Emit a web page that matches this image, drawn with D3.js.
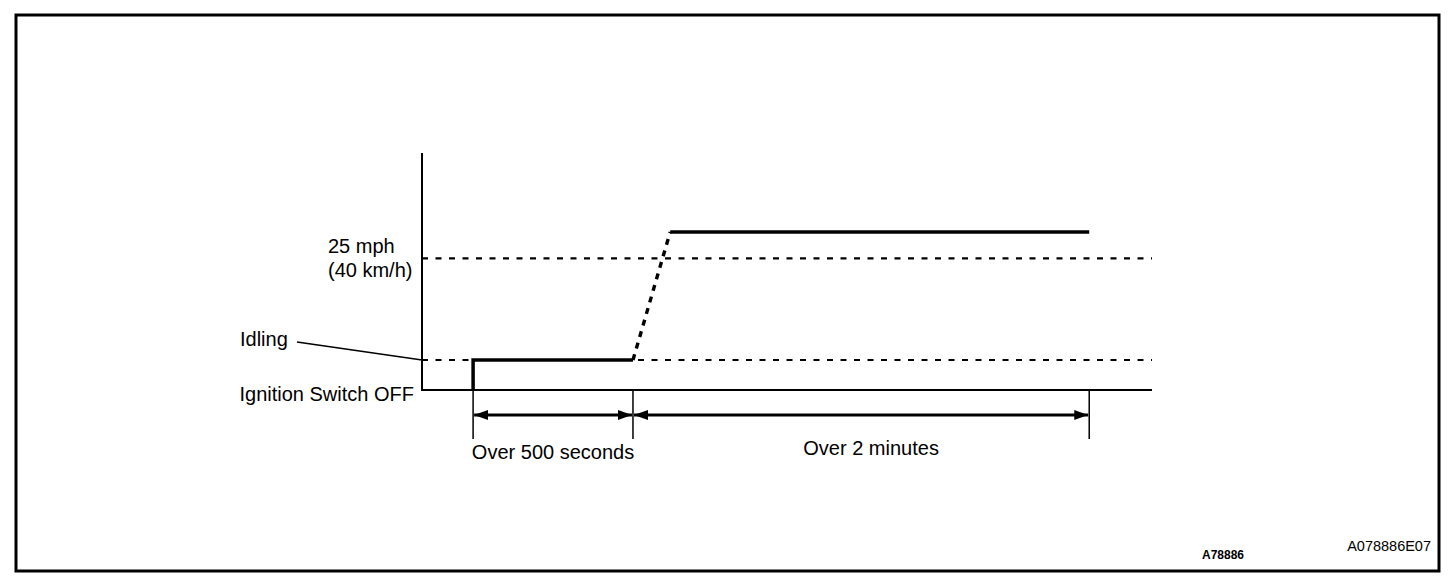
<!DOCTYPE html>
<html>
<head>
<meta charset="utf-8">
<script src="https://cdn.jsdelivr.net/npm/d3@7"></script>
<style>
  html, body { margin: 0; padding: 0; background: #fff; }
  svg { display: block; font-family: "Liberation Sans", Arial, sans-serif; }
</style>
</head>
<body>
<div id="chart"></div>
<script>
// reference levels (vehicle speed, mph) and their labels
const levelSpeeds = [0, 5.7, 25]
const levelLabels = [['Ignition Switch OFF'], ['Idling'], ['25 mph', '(40 km/h)']]

// speed profile over time (arbitrary time units, not to scale)
const profileTime = [7, 7, 28.9, 34, 91.4]
const profileSpeed = [0, 5.7, 5.7, 30, 30]

// phase boundaries and labels under the axis
const phaseBounds = [7, 28.9, 91.4]
const phaseLabels = ['Over 500 seconds', 'Over 2 minutes']

const figureCodes = ['A78886', 'A078886E07']

const fullWidth = 1456, fullHeight = 584

const svg = d3.select('#chart')
  .append('svg')
    .attr('width', fullWidth)
    .attr('height', fullHeight)

// frame
svg.append('rect')
  .attr('x', 16).attr('y', 15)
  .attr('width', 1423).attr('height', 556)
  .attr('fill', '#fff')
  .attr('stroke', '#000')
  .attr('stroke-width', 3)

const xScale = d3.scaleLinear()
  .domain([0, 100])
  .range([422, 1152])

const yScale = d3.scaleLinear()
  .domain([0, 45])
  .range([390, 153])

const g = svg.append('g')

// arrowhead markers
const defs = svg.append('defs')
defs.append('marker')
  .attr('id', 'head-end')
  .attr('viewBox', '0 0 14 10')
  .attr('refX', 14).attr('refY', 5)
  .attr('markerWidth', 14).attr('markerHeight', 10)
  .attr('markerUnits', 'userSpaceOnUse')
  .attr('orient', 'auto')
  .append('path')
    .attr('d', 'M0,0 L14,5 L0,10 Z')
    .attr('fill', '#000')
defs.append('marker')
  .attr('id', 'head-start')
  .attr('viewBox', '0 0 14 10')
  .attr('refX', 0).attr('refY', 5)
  .attr('markerWidth', 14).attr('markerHeight', 10)
  .attr('markerUnits', 'userSpaceOnUse')
  .attr('orient', 'auto')
  .append('path')
    .attr('d', 'M14,0 L0,5 L14,10 Z')
    .attr('fill', '#000')

// dashed reference lines (idling, 25 mph)
g.selectAll('.ref')
  .data(levelSpeeds.slice(1))
  .enter()
  .append('line')
    .attr('class', 'ref')
    .attr('x1', xScale(0))
    .attr('x2', xScale(100))
    .attr('y1', d => yScale(d))
    .attr('y2', d => yScale(d))
    .style('stroke', '#000')
    .style('stroke-width', 2.2)
    .style('stroke-dasharray', '6,7.5')

// axes: vertical speed axis + time baseline (ignition off)
g.append('line')
  .attr('x1', xScale(0)).attr('x2', xScale(0))
  .attr('y1', yScale(0) + 1).attr('y2', yScale(45))
  .style('stroke', '#000').style('stroke-width', 2)
g.append('line')
  .attr('x1', xScale(0)).attr('x2', xScale(100))
  .attr('y1', yScale(0)).attr('y2', yScale(0))
  .style('stroke', '#000').style('stroke-width', 2)

// speed profile
const pts = profileTime.map((t, i) => ({ t, s: profileSpeed[i] }))
const line = d3.line()
  .x(d => xScale(d.t))
  .y(d => yScale(d.s))

g.append('path')
  .attr('d', line(pts.slice(0, 3)))
  .style('fill', 'none').style('stroke', '#000')
  .style('stroke-width', 3.5).style('stroke-linejoin', 'miter')
g.append('path')
  .attr('d', line(pts.slice(2, 4)))
  .style('fill', 'none').style('stroke', '#000')
  .style('stroke-width', 3.4).style('stroke-dasharray', '6,6')
g.append('path')
  .attr('d', line(pts.slice(3)))
  .style('fill', 'none').style('stroke', '#000')
  .style('stroke-width', 3.5)

// phase boundary ticks
g.selectAll('.bound')
  .data(phaseBounds)
  .enter()
  .append('line')
    .attr('class', 'bound')
    .attr('x1', d => xScale(d)).attr('x2', d => xScale(d))
    .attr('y1', yScale(0)).attr('y2', yScale(0) + 49)
    .style('stroke', '#000').style('stroke-width', 1.5)

// dimension arrows
const phases = phaseLabels.map((label, i) => ({ label, a: phaseBounds[i], b: phaseBounds[i + 1] }))
g.selectAll('.dim')
  .data(phases)
  .enter()
  .append('line')
    .attr('class', 'dim')
    .attr('x1', d => xScale(d.a) + 1).attr('x2', d => xScale(d.b) - 1)
    .attr('y1', yScale(0) + 25).attr('y2', yScale(0) + 25)
    .attr('marker-start', 'url(#head-start)')
    .attr('marker-end', 'url(#head-end)')
    .style('stroke', '#000').style('stroke-width', 3)

g.selectAll('.phase-label')
  .data(phases)
  .enter()
  .append('text')
    .attr('class', 'phase-label')
    .attr('x', (d, i) => (xScale(d.a) + xScale(d.b)) / 2 + (i === 0 ? 0 : 10))
    .attr('y', (d, i) => yScale(0) + (i === 0 ? 69 : 65))
    .attr('text-anchor', 'middle')
    .style('font-size', '20px')
    .text(d => d.label)

// level labels
g.append('text')
  .attr('x', 414).attr('y', yScale(levelSpeeds[0]) + 11)
  .attr('text-anchor', 'end')
  .style('font-size', '20px')
  .text(levelLabels[0][0])

g.append('text')
  .attr('x', 240).attr('y', yScale(levelSpeeds[1]) - 14)
  .style('font-size', '20px')
  .text(levelLabels[1][0])
g.append('line')
  .attr('x1', 297).attr('y1', yScale(levelSpeeds[1]) - 18)
  .attr('x2', xScale(0)).attr('y2', yScale(levelSpeeds[1]))
  .style('stroke', '#000').style('stroke-width', 1.5)

g.selectAll('.speed-label')
  .data(levelLabels[2])
  .enter()
  .append('text')
    .attr('class', 'speed-label')
    .attr('x', 328)
    .attr('y', (d, i) => yScale(levelSpeeds[2]) - 5 + i * 24)
    .style('font-size', '20px')
    .text(d => d)

// figure codes
svg.append('text')
  .attr('x', 1202).attr('y', 559)
  .style('font-size', '12px').style('font-weight', 'bold')
  .text(figureCodes[0])
svg.append('text')
  .attr('x', 1431).attr('y', 551)
  .attr('text-anchor', 'end')
  .style('font-size', '14.5px')
  .text(figureCodes[1])
</script>
</body>
</html>
